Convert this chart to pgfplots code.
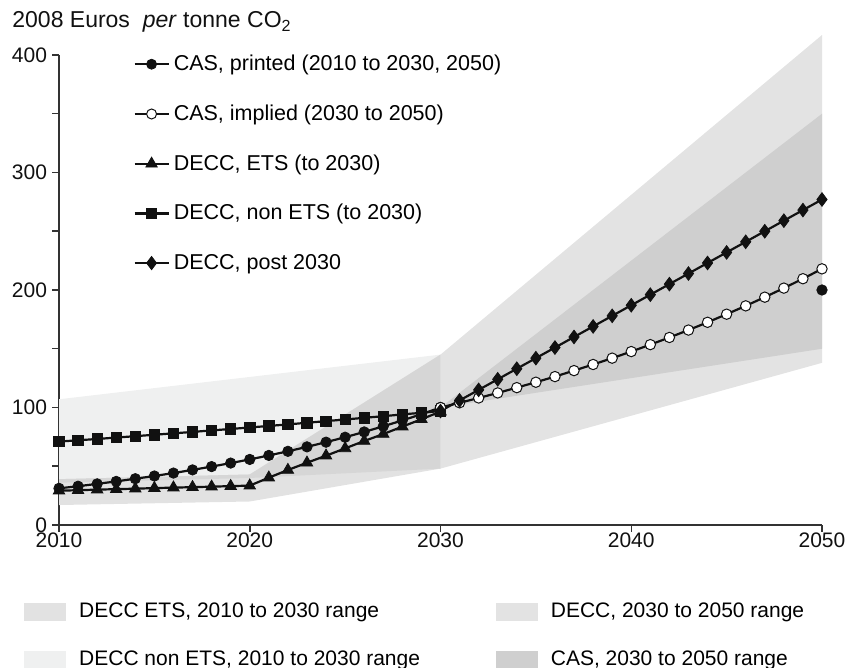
\documentclass[border=0pt]{standalone}
\usepackage{fontspec}
\setmainfont{Liberation Sans}
\usepackage{pgfplots}
\pgfplotsset{compat=1.18}
\definecolor{nonets}{HTML}{EFF0F0}
\definecolor{etsc}{HTML}{E2E2E2}
\definecolor{overlapc}{HTML}{D6D6D6}
\definecolor{deccc}{HTML}{E3E3E3}
\definecolor{casc}{HTML}{CFCFCF}
\definecolor{axisgray}{HTML}{333333}
\definecolor{ink}{HTML}{111111}
\begin{document}
\begin{tikzpicture}
\useasboundingbox (0,0) rectangle (422.5pt,334pt);
\begin{axis}[
  at={(29.5pt,71.5pt)}, anchor=south west,
  scale only axis, width=381.5pt, height=235pt,
  xmin=2010, xmax=2050, ymin=0, ymax=400,
  axis lines=left,
  axis line style={-, line width=0.75pt, color=axisgray},
  xtick={2010,2020,2030,2040,2050},
  ytick={0,100,200,300,400},
  minor ytick={50,150,250,350},
  tick align=outside,
  major tick length=3.5pt, minor tick length=3.5pt,
  tick style={line width=0.75pt, color=axisgray},
  /pgf/number format/assume math mode=true,
  /pgf/number format/1000 sep={},
  tick label style={font=\fontsize{10.5}{12}\selectfont, text=ink},
  xticklabel style={yshift=3pt},
  yticklabel style={xshift=1pt},
  clip=false,
  legend style={draw=none, fill=none, at={(0.097,1.0095)}, anchor=north west,
    font=\fontsize{10.75}{13}\selectfont, row sep=11.6pt, inner sep=0pt},
  legend cell align=left,
]
% shaded ranges
\addplot[fill=nonets, draw=none, forget plot] coordinates {(2010,36) (2020,40) (2030,48) (2030,145) (2010,107) (2010,36)};
\addplot[fill=etsc, draw=none, forget plot] coordinates {(2010,17) (2020,20) (2030,48) (2030,145) (2020,43) (2010,39) (2010,17)};
\addplot[fill=overlapc, draw=none, forget plot] coordinates {(2010,36) (2020,40) (2030,48) (2030,145) (2020,43) (2010,39) (2010,36)};
\addplot[fill=deccc, draw=none, forget plot] coordinates {(2030,48) (2050,138) (2050,417) (2030,145) (2030,48)};
\addplot[fill=casc, draw=none, forget plot] coordinates {(2030,100) (2050,150) (2050,350) (2030,100)};

% DECC ETS
\addplot[ink, line width=1.1pt, mark=triangle*, mark size=3.3pt, mark options={solid, line width=0.4pt}, forget plot] coordinates {
(2010,29.2) (2011,29.6) (2012,30.1) (2013,30.5) (2014,30.9) (2015,31.4) (2016,31.8) (2017,32.2) (2018,32.6) (2019,33.1) (2020,33.5)
(2021,40.3) (2022,46.8) (2023,53.0) (2024,59.0) (2025,65.2) (2026,71.5) (2027,77.4) (2028,83.7) (2029,90.0) (2030,96.5)};
% DECC non ETS
\addplot[ink, line width=1.1pt, mark=square*, mark size=2.6pt, mark options={solid, line width=0.4pt}, forget plot] coordinates {
(2010,71.0) (2011,72.1) (2012,73.2) (2013,74.4) (2014,75.6) (2015,76.8) (2016,78.0) (2017,79.2) (2018,80.5) (2019,81.7) (2020,83.0)
(2021,84.3) (2022,85.6) (2023,87.0) (2024,88.4) (2025,89.8) (2026,91.2) (2027,92.6) (2028,94.1) (2029,95.5) (2030,97.0)};
% CAS printed
\addplot[ink, line width=1.1pt, mark=*, mark size=2.6pt, mark options={solid, line width=0.4pt}, forget plot] coordinates {
(2010,31.2) (2011,33.0) (2012,35.0) (2013,37.1) (2014,39.4) (2015,41.7) (2016,44.2) (2017,46.9) (2018,49.7) (2019,52.7) (2020,55.8)
(2021,59.2) (2022,62.7) (2023,66.5) (2024,70.5) (2025,74.7) (2026,79.2) (2027,84.0) (2028,89.0) (2029,94.3) (2030,100.0)};
\addplot[ink, only marks, mark=*, mark size=2.6pt, forget plot] coordinates {(2050,200)};
% CAS implied
\addplot[ink, line width=1.1pt, mark=*, mark size=2.6pt, mark options={solid, fill=white, draw=ink, line width=0.5pt}, forget plot] coordinates {
(2030,100.0) (2031,104.0) (2032,108.1) (2033,112.4) (2034,116.9) (2035,121.5) (2036,126.3) (2037,131.4) (2038,136.6) (2039,142.0) (2040,147.6)
(2041,153.5) (2042,159.6) (2043,165.9) (2044,172.5) (2045,179.4) (2046,186.5) (2047,193.9) (2048,201.6) (2049,209.6) (2050,218.0)};
% DECC post 2030
\addplot[ink, line width=1.1pt, mark=diamond*, mark size=3.4pt, mark options={solid, line width=0.4pt}, forget plot] coordinates {
(2030,97) (2031,106) (2032,115) (2033,124) (2034,133) (2035,142) (2036,151) (2037,160) (2038,169) (2039,178) (2040,187)
(2041,196) (2042,205) (2043,214) (2044,223) (2045,232) (2046,241) (2047,250) (2048,259) (2049,268) (2050,277)};

\addlegendimage{ink, line width=1.1pt, mark=*, mark size=2.5pt, mark options={solid, line width=0.4pt}}
\addlegendentry{CAS, printed (2010 to 2030, 2050)}
\addlegendimage{ink, line width=1.1pt, mark=*, mark size=2.5pt, mark options={solid, fill=white, draw=ink, line width=0.5pt}}
\addlegendentry{CAS, implied (2030 to 2050)}
\addlegendimage{ink, line width=1.1pt, mark=triangle*, mark size=3.3pt, mark options={solid, line width=0.4pt}}
\addlegendentry{DECC, ETS (to 2030)}
\addlegendimage{ink, line width=1.1pt, mark=square*, mark size=2.6pt, mark options={solid, line width=0.4pt}}
\addlegendentry{DECC, non ETS (to 2030)}
\addlegendimage{ink, line width=1.1pt, mark=diamond*, mark size=3.3pt, mark options={solid, line width=0.4pt}}
\addlegendentry{DECC, post 2030}
\end{axis}

\begin{axis}[
  at={(29.5pt,71.5pt)}, anchor=south west,
  scale only axis, width=381.5pt, height=235pt,
  xmin=2010, xmax=2050, ymin=0, ymax=400,
  hide axis, clip=false,
  legend columns=2,
  legend style={draw=none, fill=none, at={(-0.0459,-0.1563)}, anchor=north west,
    font=\fontsize{10.5}{12}\selectfont, row sep=11pt, inner sep=0pt},
  legend cell align=left,
]
\addplot[draw=none, forget plot] coordinates {(2010,0) (2050,400)};
\addlegendimage{legend image code/.code={\fill[etsc] (0pt,-4.2pt) rectangle (20.5pt,4.2pt); \path (25pt,0pt);}}
\addlegendentry{DECC ETS, 2010 to 2030 range}
\addlegendimage{legend image code/.code={\path (-36pt,0pt); \fill[deccc] (0pt,-4.2pt) rectangle (20.5pt,4.2pt); \path (25pt,0pt);}}
\addlegendentry{DECC, 2030 to 2050 range}
\addlegendimage{legend image code/.code={\fill[nonets] (0pt,-4.2pt) rectangle (20.5pt,4.2pt); \path (25pt,0pt);}}
\addlegendentry{DECC non ETS, 2010 to 2030 range}
\addlegendimage{legend image code/.code={\path (-36pt,0pt); \fill[casc] (0pt,-4.2pt) rectangle (20.5pt,4.2pt); \path (25pt,0pt);}}
\addlegendentry{CAS, 2030 to 2050 range}
\end{axis}

\node[anchor=base west, inner sep=0pt, font=\fontsize{11.5}{13}\selectfont, text=ink] at (6pt,320pt) {2008 Euros\ \ \textit{per} tonne CO\textsubscript{2}};
\end{tikzpicture}
\end{document}
